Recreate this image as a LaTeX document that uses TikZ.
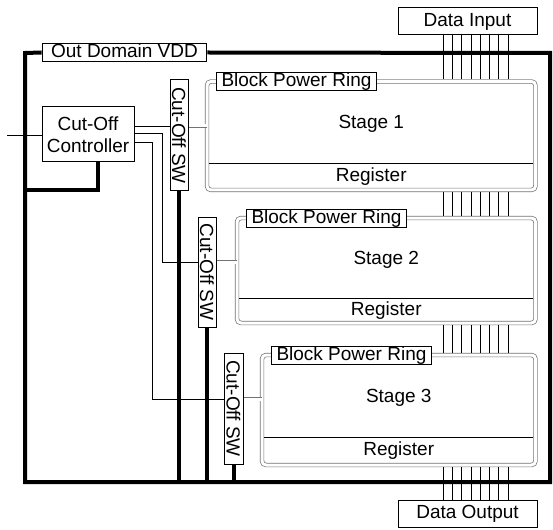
\documentclass[tikz,border=0pt]{standalone}
\usepackage{fontspec}
\setmainfont{Liberation Sans}
\usepackage{graphicx}

\begin{document}
\begin{tikzpicture}[x=1pt,y=-1pt,
  every node/.style={font=\fontsize{19}{22}\selectfont},
  box/.style={draw,line width=1pt,fill=white,inner sep=0pt},
  tag/.style={draw,line width=1pt,fill=white,inner xsep=5pt,inner ysep=0pt,
    text height=14pt,text depth=4pt},
  pwr/.style={line width=4pt},
  ctl/.style={line width=0.6pt},
  bus/.style={line width=0.6pt},
  ring/.style={draw=black!55,double=white,double distance=3pt,line width=0.7pt,
    rounded corners=4pt,outer sep=0pt,inner sep=0pt}]
  \useasboundingbox (0,0) rectangle (553,529);

  % Corners of the out domain VDD frame.
  \coordinate (fnw) at (25,53);
  \coordinate (fne) at (550,53);
  \coordinate (fse) at (550,482);
  \coordinate (fsw) at (25,482);
  \coordinate (cin) at (7,135);

  % I/O and control blocks.
  \node[tag,inner xsep=9pt] (vdd) at (124.5,52.5) {Out Domain VDD};
  \node[box,minimum width=139,minimum height=27] (din) at (467.5,21.5) {Data Input};
  \node[box,minimum width=139,minimum height=27] (dout) at (467.5,513.5) {Data Output};
  \node[box,minimum width=92,minimum height=55,align=center] (ctrl) at (88,134.5)
    {Cut-Off\\Controller};

  % Power frame.
  \draw[pwr] (vdd.east) -- (fne) -- (fse) -- (fsw) -- (fnw) -- (vdd.west);
  \draw[pwr] (ctrl.south -| 97.5,0) |- (fnw |- 0,190);

  % Cut-off switches.
  \node[box,minimum width=18,minimum height=111] (sw1) at (179,135.5)
    {\rotatebox{-90}{Cut-Off SW}};
  \node[box,minimum width=18,minimum height=110] (sw2) at (207,272)
    {\rotatebox{-90}{Cut-Off SW}};
  \node[box,minimum width=19,minimum height=111] (sw3) at (233.5,408.5)
    {\rotatebox{-90}{Cut-Off SW}};
  \foreach \s in {1,2,3}{
    \draw[pwr] (sw\s.south) -- (sw\s.south |- fsw);
  }

  % Stages: left, top, register line, bottom of each block power ring.
  \foreach \i/\l/\t/\d/\b in {1/207/81.5/163/190, 2/237/218/298/323, 3/262/355/437/465}{
    \node[ring,minimum width={535.5-\l},minimum height={\b-\t},anchor=north west]
      (st\i) at (\l,\t) {};
    \draw[line width=0.8pt] (\l+2.2,\d) -- (533.3,\d);
    \node (stg\i) at ({(\l+535.5)/2},{(\t+\d)/2+2}) {Stage \i};
    \node (reg\i) at ({(\l+535.5)/2},{(\d+\b)/2}) {Register};
    \node[tag,anchor=west] (brl\i) at (\l+9,\t) {Block Power Ring};
  }

  % Data bus between the stages.
  \foreach \k in {0,...,7}{
    \pgfmathsetmacro{\x}{443+\k*65/7}
    \draw[bus,shorten >=2.2pt] (\x,0 |- din.south) -- (\x,0 |- st1.north);
    \draw[bus,shorten <=2.2pt,shorten >=2.2pt] (\x,0 |- st1.south) -- (\x,0 |- st2.north);
    \draw[bus,shorten <=2.2pt,shorten >=2.2pt] (\x,0 |- st2.south) -- (\x,0 |- st3.north);
    \draw[bus,shorten <=2.2pt] (\x,0 |- st3.south) -- (\x,0 |- dout.north);
  }

  % Controller to switches.
  \draw[ctl] (cin) -- (ctrl.west |- cin);
  \draw[ctl] (ctrl.east |- 0,126) -- (sw1.west |- 0,126);
  \draw[ctl] (ctrl.east |- 0,133) -| (162,262) -- (sw2.west |- 0,262);
  \draw[ctl] (ctrl.east |- 0,142) -| (152,399) -- (sw3.west |- 0,399);

  % Switches to the block power rings.
  \draw[ring] (sw1.east |- 0,126) -- (st1.west |- 0,126);
  \draw[ring] (sw2.east |- 0,262) -- (st2.west |- 0,262);
  \draw[ring] (sw3.east |- 0,399) -- (st3.west |- 0,399);
\end{tikzpicture}
\end{document}
